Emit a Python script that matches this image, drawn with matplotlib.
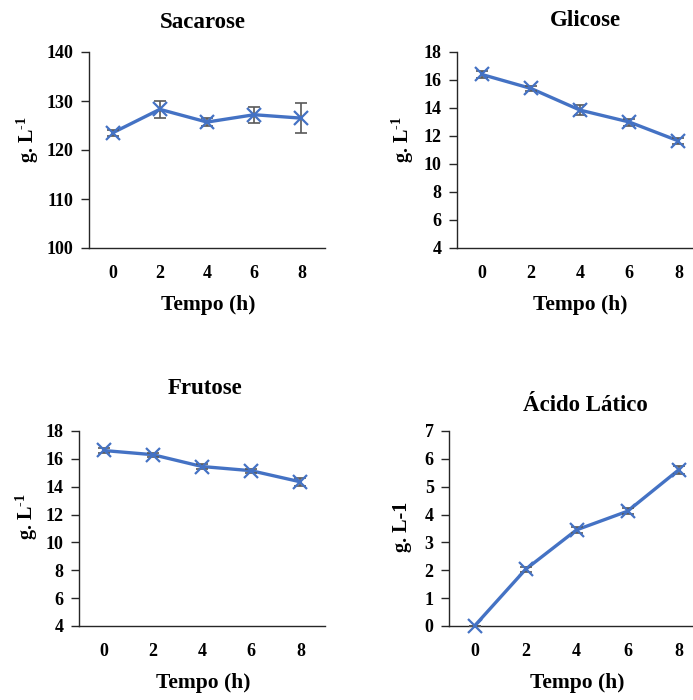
import numpy as np
import matplotlib
matplotlib.use("Agg")
import matplotlib.pyplot as plt

plt.rcParams['font.family'] = ['Liberation Serif', 'DejaVu Serif']
plt.rcParams['font.weight'] = 'bold'
plt.rcParams['mathtext.fontset'] = 'custom'
plt.rcParams['mathtext.rm'] = 'Liberation Serif:bold'
plt.rcParams['mathtext.bf'] = 'Liberation Serif:bold'

# data
tempo = ['0', '2', '4', '6', '8']

sacarose = [123.5, 128.3, 125.7, 127.2, 126.5]
sacarose_err = [0.6, 1.7, 0.9, 1.6, 3.0]

glicose = [16.4, 15.4, 13.85, 13.0, 11.65]
glicose_err = [0.25, 0.15, 0.35, 0.25, 0.2]

frutose = [16.6, 16.3, 15.45, 15.15, 14.35]
frutose_err = [0.15, 0.15, 0.15, 0.15, 0.3]

lactico = [0.0, 2.03, 3.45, 4.12, 5.6]
lactico_err = [0.0, 0.1, 0.1, 0.1, 0.15]

W, H = 693, 700
BLUE = '#4472C4'
GRAY = '#595959'


def px(x, y):
    return x / W, 1 - y / H


def panel(fig, rect, vals, err, ylim, ystep, title, title_xy,
          ylabel, ylab_xy, xlab_xy):
    l, t, r, b = rect
    ax = fig.add_axes([l / W, 1 - b / H, (r - l) / W, (b - t) / H])
    x = np.arange(len(tempo))
    ax.plot(x, vals, color=BLUE, lw=2.4, zorder=2, solid_capstyle='round')
    ax.errorbar(x, vals, yerr=err, fmt='none', ecolor=GRAY, elinewidth=1.2,
                capsize=4, capthick=1.2, zorder=3)
    ax.plot(x, vals, ls='none', marker='x', ms=10, mew=1.6, color=BLUE,
            zorder=4, clip_on=False)
    ax.set_xlim(-0.5, 4.5)
    ax.set_ylim(*ylim)
    ax.set_yticks(np.arange(ylim[0], ylim[1] + 0.001, ystep))
    ax.set_xticks(x)
    ax.set_xticklabels(tempo)
    ax.spines['top'].set_visible(False)
    ax.spines['right'].set_visible(False)
    ax.spines['left'].set_color('#262626')
    ax.spines['bottom'].set_color('#262626')
    ax.spines['left'].set_linewidth(1.0)
    ax.spines['bottom'].set_linewidth(1.0)
    ax.tick_params(axis='y', length=6, width=1.0, color='#262626',
                   labelsize=13, pad=5)
    ax.tick_params(axis='x', length=0, labelsize=13, pad=12)
    for lab in ax.get_xticklabels() + ax.get_yticklabels():
        lab.set_fontweight('bold')
    fig.text(*px(*title_xy), title, ha='center', va='center',
             fontsize=16.5, fontweight='bold')
    fig.text(*px(*xlab_xy), 'Tempo (h)', ha='center', va='center',
             fontsize=15.5, fontweight='bold')
    fig.text(*px(*ylab_xy), ylabel, ha='center', va='center', rotation=90,
             fontsize=14.5, fontweight='bold')
    return ax


fig = plt.figure(figsize=(W / 100, H / 100), dpi=100)

ylab = r'g. L$^{\text{-1}}$'
panel(fig, (89, 52, 325, 248), sacarose, sacarose_err, (100, 140), 10,
      'Sacarose', (203, 22), ylab, (28, 140), (208, 305))
panel(fig, (457, 52, 703, 248), glicose, glicose_err, (4, 18), 2,
      'Glicose', (585, 20), ylab, (403, 140), (580, 305))
panel(fig, (79, 431, 325, 626), frutose, frutose_err, (4, 18), 2,
      'Frutose', (205, 388), ylab, (27, 517), (203, 683))
panel(fig, (449, 431, 704, 626), lactico, lactico_err, (0, 7), 1,
      'Ácido Lático', (585, 405), 'g. L-1', (402, 527), (577, 683))

fig.savefig('out.png', dpi=100)
